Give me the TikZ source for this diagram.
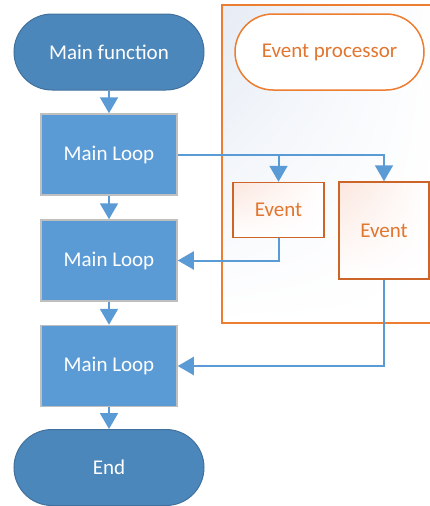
\documentclass[tikz,border=0pt]{standalone}
\usepackage{fontspec}
\setmainfont{Carlito}
\usetikzlibrary{arrows.meta,shadings}
\definecolor{lineblue}{RGB}{91,155,213}
\definecolor{boxblue}{RGB}{91,155,213}
\definecolor{termblue}{RGB}{76,135,187}
\definecolor{termedge}{RGB}{65,113,156}
\definecolor{boxedge}{RGB}{191,191,191}
\definecolor{orangeline}{RGB}{237,125,49}
\definecolor{eventedge}{RGB}{205,100,40}
\definecolor{eventtext}{RGB}{225,118,48}
\definecolor{panelbg}{RGB}{230,236,245}
\definecolor{eventbg}{RGB}{251,230,222}
\begin{document}
\begin{tikzpicture}[x=1pt,y=-1pt,
  every node/.style={inner sep=0pt, font=\fontsize{21}{25}\selectfont},
  terminal/.style={rounded corners=38pt, minimum width=190pt, minimum height=76pt,
    fill=termblue, draw=termedge, line width=1pt, text=white},
  loopbox/.style={minimum width=136pt, minimum height=81pt, fill=boxblue,
    draw=boxedge, line width=1.5pt, text=white},
  panel/.style={draw=orangeline, line width=1.5pt, upper left=panelbg, upper right=white,
    lower left=white, lower right=white},
  procterm/.style={rounded corners=38pt, minimum width=189pt, minimum height=76pt,
    fill=white, draw=orangeline, line width=1.5pt, text=eventtext},
  eventbox/.style={draw=eventedge, line width=1.5pt, upper left=eventbg, upper right=white,
    lower left=white, lower right=white, text=eventtext},
  flow/.style={draw=lineblue, line width=2pt, -{Triangle[length=16pt,width=18pt]}}
]
\useasboundingbox (0,0) rectangle (430,506);
\node[panel, minimum width=218pt, minimum height=318pt] (proc) at (331,164) {};
\node[procterm] (evproc) at (329.5,52) {Event processor};
\node[eventbox, minimum width=91pt, minimum height=55pt] (ev1) at (278.5,210) {Event};
\node[eventbox, minimum width=90pt, minimum height=97pt] (ev2) at (384,230.5) {Event};

\node[terminal] (mainfn) at (109,52) {Main function};
\node[loopbox] (loop1) at (109,154.5) {Main Loop};
\node[loopbox] (loop2) at (109,260.5) {Main Loop};
\node[loopbox] (loop3) at (109,366) {Main Loop};
\node[terminal] (endn) at (109,467.5) {End};

\draw[flow] (mainfn) -- (loop1);
\draw[flow] (loop1) -- (loop2);
\draw[flow] (loop2) -- (loop3);
\draw[flow] (loop3) -- (endn);
\draw[flow] (loop1.east) -| (ev1.north);
\draw[flow] (loop1.east) -| (ev2.north);
\draw[flow] (ev1.south) |- (loop2.east);
\draw[flow] (ev2.south) |- (loop3.east);
\end{tikzpicture}
\end{document}
